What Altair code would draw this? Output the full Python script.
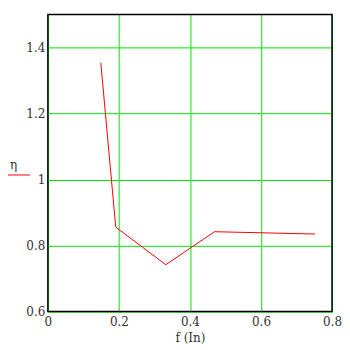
import altair as alt
import pandas as pd

f_vals = [0.149, 0.191, 0.332, 0.469, 0.752]
eta_vals = [1.354, 0.856, 0.742, 0.842, 0.835]

df = pd.DataFrame({"f": f_vals, "eta": eta_vals})

FONT = "DejaVu Serif"
GRID = "#00e600"

x_axis = alt.Axis(values=[0, 0.2, 0.4, 0.6, 0.8], format=".1~f", title="f (In)",
                  grid=True, gridColor=GRID, gridWidth=1, ticks=False, domain=False,
                  labelPadding=5, titlePadding=5, labelFlush=False)
y_axis = alt.Axis(values=[0.6, 0.8, 1.0, 1.2, 1.4], labelExpr="datum.value == 1 ? '1' : format(datum.value, '.1f')",
                  title=None, grid=True, gridColor=GRID, gridWidth=1, ticks=False, domain=False,
                  labelPadding=3)

line = alt.Chart(df).mark_line(color="#ff0000", strokeWidth=1).encode(
    x=alt.X("f:Q", scale=alt.Scale(domain=[0, 0.8], nice=False), axis=x_axis),
    y=alt.Y("eta:Q", scale=alt.Scale(domain=[0.6, 1.5], nice=False), axis=y_axis),
)

frame = alt.Chart(pd.DataFrame({"a": [0]})).mark_rect(fill=None, stroke="black", strokeWidth=1.5).encode(
    x=alt.value(0), x2=alt.value(285), y=alt.value(0), y2=alt.value(298)
)

eta_label = alt.Chart(pd.DataFrame({"t": ["η"]})).mark_text(
    fontSize=12, color="#333333", align="left", baseline="middle"
).encode(text="t:N", x=alt.value(-38), y=alt.value(151))

eta_rule = alt.Chart(pd.DataFrame({"a": [0]})).mark_rule(color="#ff0000", strokeWidth=1).encode(
    x=alt.value(-40), x2=alt.value(-18), y=alt.value(161)
)

chart = alt.layer(line, frame, eta_label, eta_rule).properties(
    width=285, height=298, autosize="none",
    padding={"left": 40, "top": 6, "right": 10, "bottom": 36},
).configure(font=FONT).configure_axis(
    labelFont=FONT, labelFontSize=12, labelColor="#333333",
    titleFont=FONT, titleFontSize=12, titleFontWeight="normal", titleColor="#333333",
).configure_text(font=FONT).configure_view(stroke=None)

chart.save("out.html", embed_options={"renderer": "svg", "actions": False})
